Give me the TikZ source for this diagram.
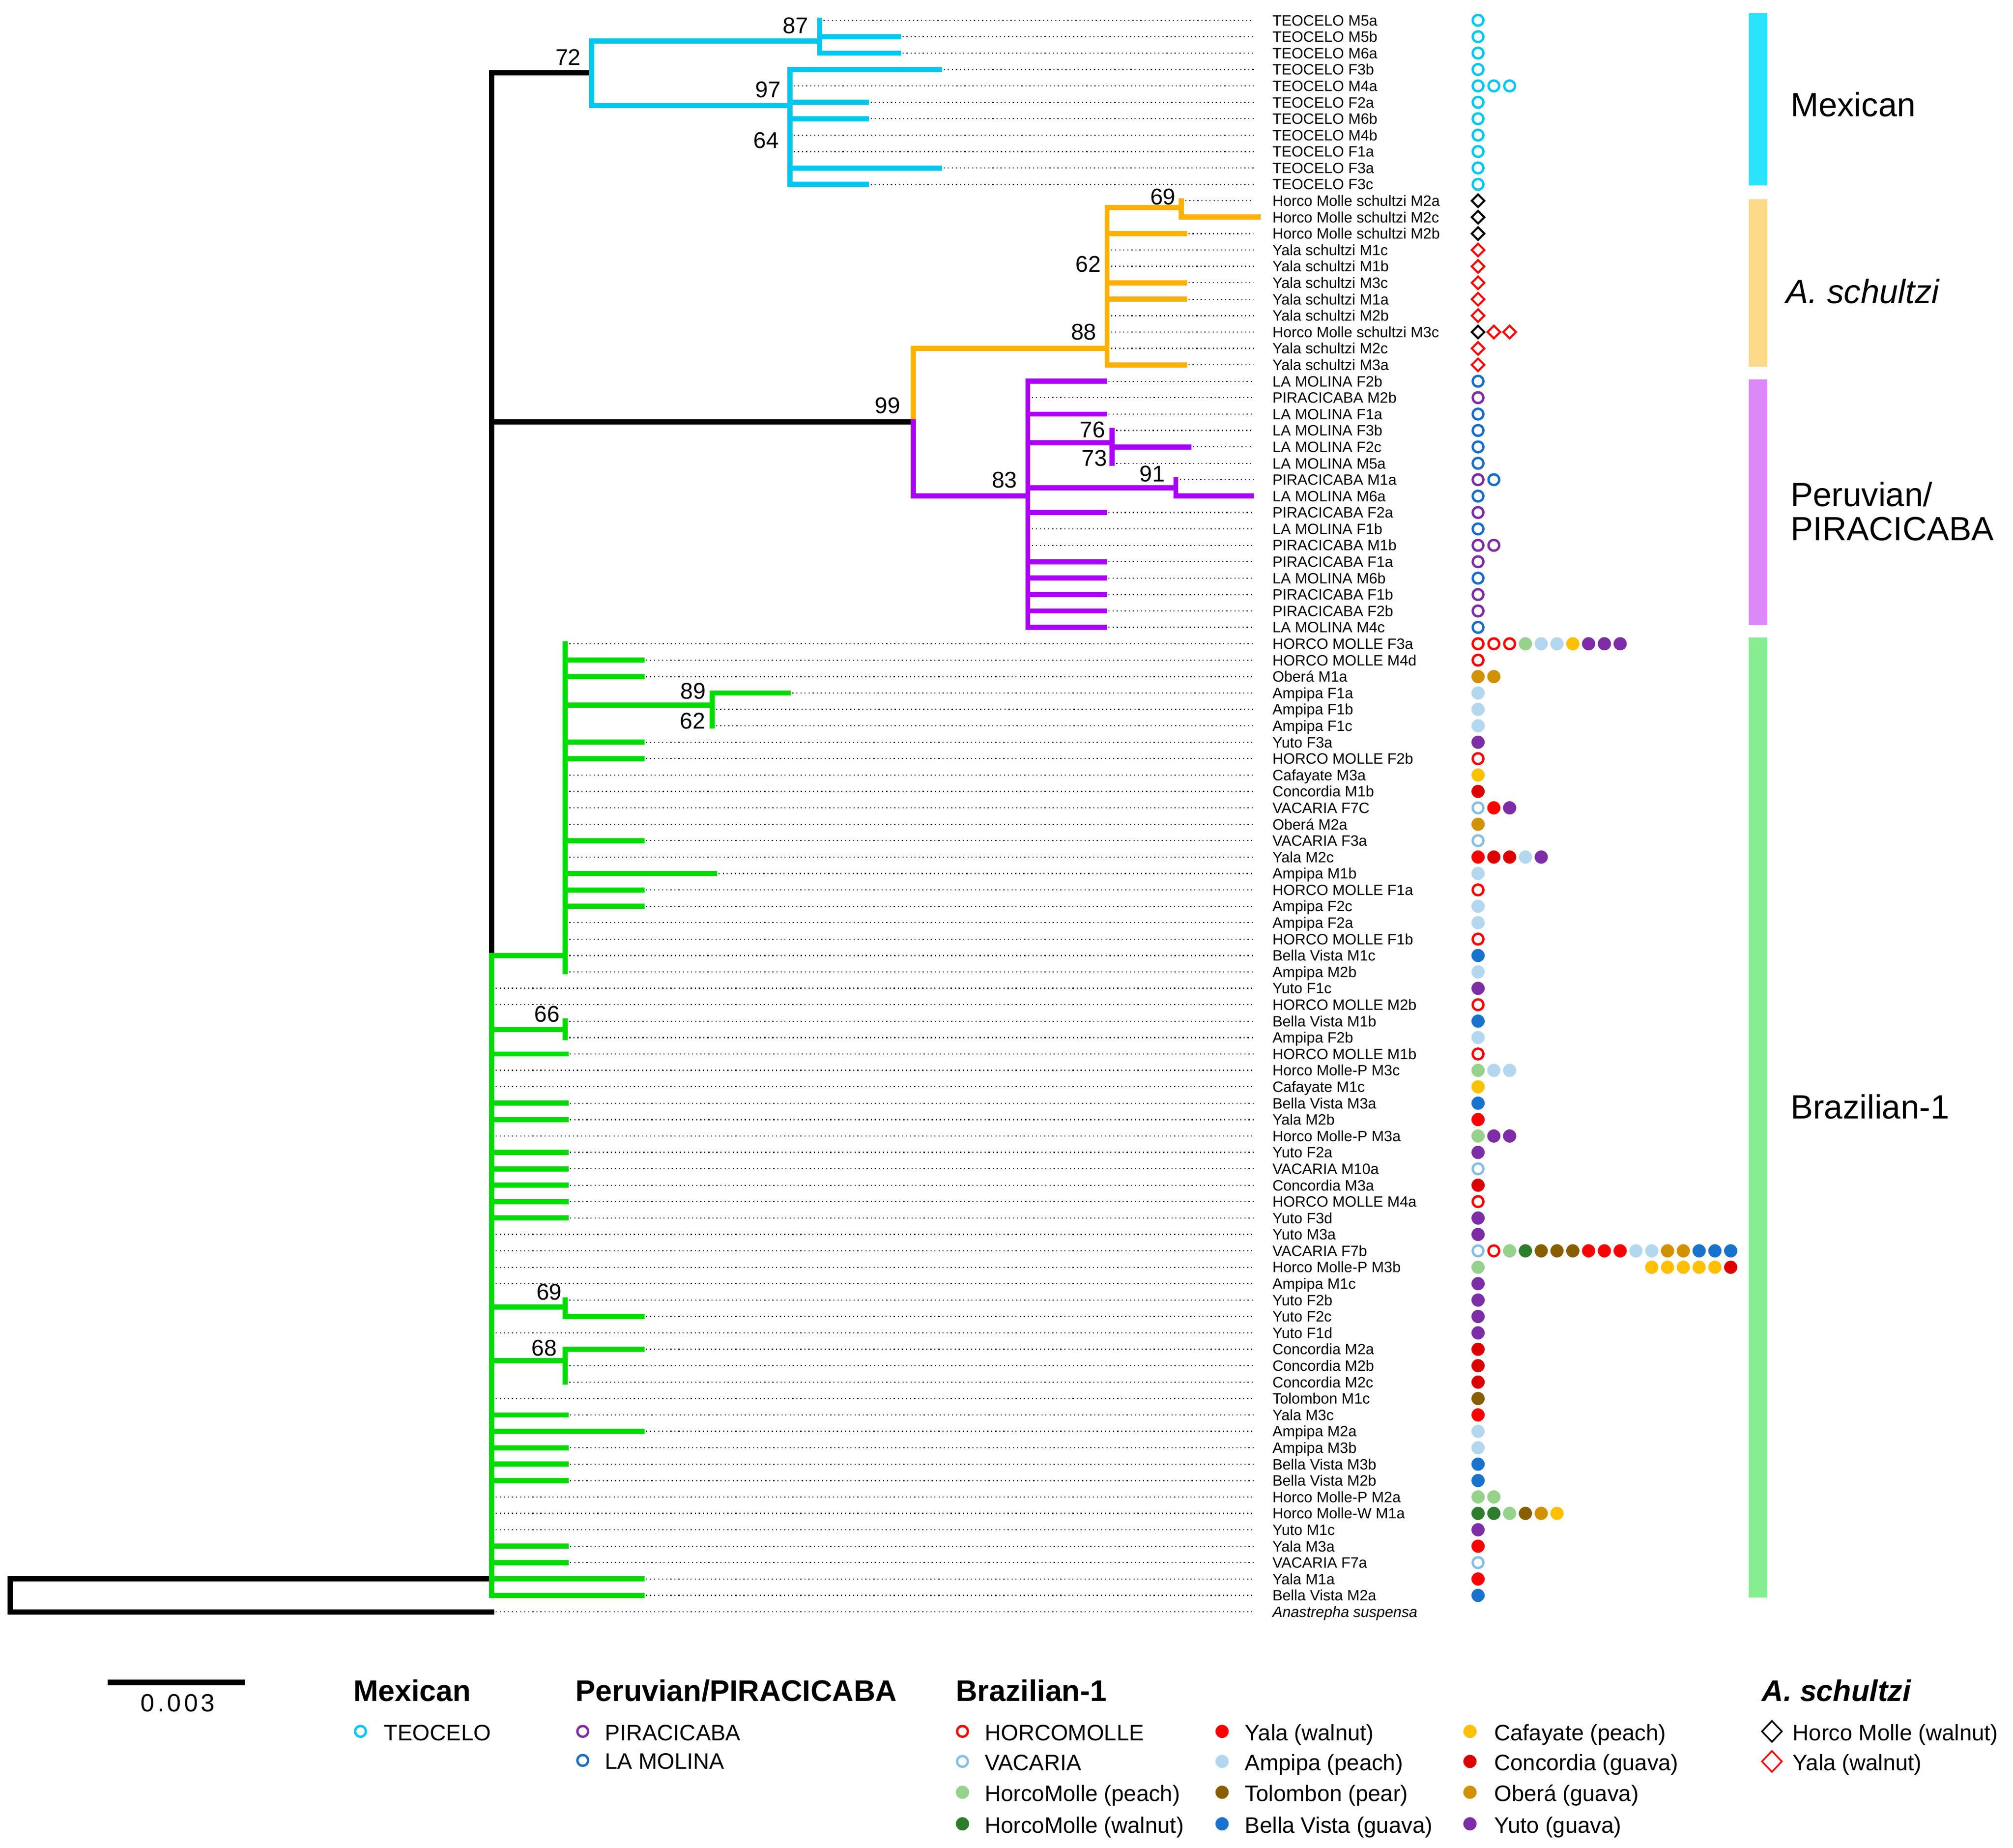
\documentclass[tikz,border=0pt]{standalone}
\usepackage{fontspec}
\setmainfont{Liberation Sans}
\usetikzlibrary{shapes.geometric}
\definecolor{cMex}{RGB}{0,200,240}
\definecolor{cSch}{RGB}{255,176,0}
\definecolor{cPer}{RGB}{170,0,250}
\definecolor{cBra}{RGB}{0,220,0}
\definecolor{barMex}{RGB}{42,228,251}
\definecolor{barSch}{RGB}{253,217,138}
\definecolor{barPer}{RGB}{221,136,248}
\definecolor{barBra}{RGB}{134,238,144}
\definecolor{tcC}{RGB}{0,200,240}
\definecolor{piC}{RGB}{125,45,165}
\definecolor{lmC}{RGB}{25,110,200}
\definecolor{hmC}{RGB}{255,0,0}
\definecolor{vaC}{RGB}{135,190,230}
\definecolor{hpC}{RGB}{150,210,140}
\definecolor{hwC}{RGB}{45,125,45}
\definecolor{yaC}{RGB}{255,0,0}
\definecolor{amC}{RGB}{180,215,240}
\definecolor{toC}{RGB}{135,95,0}
\definecolor{bvC}{RGB}{25,115,205}
\definecolor{caC}{RGB}{255,192,0}
\definecolor{coC}{RGB}{220,0,0}
\definecolor{obC}{RGB}{210,145,0}
\definecolor{yuC}{RGB}{125,45,165}
\newcommand\tipfont{\fontsize{8.3}{9}\selectfont}
\newcommand\bsfont{\fontsize{12.6}{14}\selectfont}
\newcommand\barfont{\fontsize{18.6}{21}\selectfont}
\newcommand\lghfont{\fontsize{16.5}{19}\selectfont\bfseries}
\newcommand\lgefont{\fontsize{12.4}{14}\selectfont}
\begin{document}
\begin{tikzpicture}[x=0.025cm,y=-0.025cm,
  declare function={ry(\q)=15.8+(\q-1)*12.78;},
  br/.style={line width=2.85pt, line cap=rect, line join=miter},
  lead/.style={line width=0.6pt, dash pattern=on 0.6pt off 1.65pt, black},
  tiplab/.style={anchor=west, inner sep=0pt, font=\tipfont, text height=5.94pt, text depth=0pt},
  bs/.style={inner sep=0pt, font=\bsfont, text height=9pt, text depth=0pt, anchor=center},
  barlab/.style={anchor=west, inner sep=0pt, font=\barfont, text height=13.3pt, text depth=0pt},
  lgh/.style={anchor=base west, inner sep=0pt, font=\lghfont},
  lge/.style={anchor=west, inner sep=0pt, font=\lgefont, text height=8.88pt, text depth=0pt},
  mkopen/.style={circle, inner sep=0pt, minimum size=0.21cm, line width=1.3pt, draw},
  mkfill/.style={circle, inner sep=0pt, minimum size=0.2575cm, draw=none},
  mkdia/.style={diamond, inner sep=0pt, minimum width=0.2625cm, minimum height=0.2625cm, line width=1.1pt, draw},
  mktc/.style={mkopen, draw=tcC},
  mkpi/.style={mkopen, draw=piC},
  mklm/.style={mkopen, draw=lmC},
  mkhm/.style={mkopen, draw=hmC},
  mkva/.style={mkopen, draw=vaC},
  mkhp/.style={mkfill, fill=hpC},
  mkhw/.style={mkfill, fill=hwC},
  mkya/.style={mkfill, fill=yaC},
  mkam/.style={mkfill, fill=amC},
  mkto/.style={mkfill, fill=toC},
  mkbv/.style={mkfill, fill=bvC},
  mkca/.style={mkfill, fill=caC},
  mkco/.style={mkfill, fill=coC},
  mkob/.style={mkfill, fill=obC},
  mkyu/.style={mkfill, fill=yuC},
  mkdk/.style={mkdia, draw=black},
  mkdr/.style={mkdia, draw=red},
  lgdia/.style={diamond, inner sep=0pt, minimum width=0.4cm, minimum height=0.42cm, line width=0.9pt, draw}
]
\fill[white] (0,0) rectangle (1568,1439.1);
\path[use as bounding box] (0,0) rectangle (1568,1439.1);

% ---------- root ----------
\coordinate (root) at (8,{ry(96)});
\coordinate (rootb) at (8,{ry(98)});
\coordinate (ingr) at (383,{ry(96)});
\coordinate (outg) at (383,{ry(98)});
\draw[br,black] (ingr) -- (root) -- (rootb) -- (outg);

% ---------- tips: leaders, branches, labels ----------
\foreach \r/\c/\nx/\tx/\lab in {
1/cMex/638.4/638.4/TEOCELO M5a,
2/cMex/638.4/699.8/TEOCELO M5b,
3/cMex/638.4/699.8/TEOCELO M6a,
4/cMex/615.2/731.9/TEOCELO F3b,
5/cMex/615.2/615.2/TEOCELO M4a,
6/cMex/615.2/675/TEOCELO F2a,
7/cMex/615.2/675/TEOCELO M6b,
8/cMex/615.2/615.2/TEOCELO M4b,
9/cMex/615.2/615.2/TEOCELO F1a,
10/cMex/615.2/731.9/TEOCELO F3a,
11/cMex/615.2/675/TEOCELO F3c,
12/cSch/920/920/Horco Molle schultzi M2a,
13/cSch/920/980.2/Horco Molle schultzi M2c,
14/cSch/862.3/922.6/Horco Molle schultzi M2b,
15/cSch/862.3/862.3/Yala schultzi M1c,
16/cSch/862.3/862.3/Yala schultzi M1b,
17/cSch/862.3/922.6/Yala schultzi M3c,
18/cSch/862.3/922.6/Yala schultzi M1a,
19/cSch/862.3/862.3/Yala schultzi M2b,
20/cSch/862.3/862.3/Horco Molle schultzi M3c,
21/cSch/862.3/862.3/Yala schultzi M2c,
22/cSch/862.3/922.6/Yala schultzi M3a,
23/cPer/800.6/860.3/LA MOLINA F2b,
24/cPer/800.6/800.6/PIRACICABA M2b,
25/cPer/800.6/860.3/LA MOLINA F1a,
26/cPer/866.3/866.3/LA MOLINA F3b,
27/cPer/866.3/925.9/LA MOLINA F2c,
28/cPer/866.3/866.3/LA MOLINA M5a,
29/cPer/915.9/915.9/PIRACICABA M1a,
30/cPer/915.9/975/LA MOLINA M6a,
31/cPer/800.6/860.3/PIRACICABA F2a,
32/cPer/800.6/800.6/LA MOLINA F1b,
33/cPer/800.6/800.6/PIRACICABA M1b,
34/cPer/800.6/860.3/PIRACICABA F1a,
35/cPer/800.6/860.3/LA MOLINA M6b,
36/cPer/800.6/860.3/PIRACICABA F1b,
37/cPer/800.6/860.3/PIRACICABA F2b,
38/cPer/800.6/860.3/LA MOLINA M4c,
39/cBra/440.3/440.3/HORCO MOLLE F3a,
40/cBra/440.3/500/HORCO MOLLE M4d,
41/cBra/440.3/500/Oberá M1a,
42/cBra/554.6/614/Ampipa F1a,
43/cBra/554.6/554.6/Ampipa F1b,
44/cBra/554.6/554.6/Ampipa F1c,
45/cBra/440.3/500/Yuto F3a,
46/cBra/440.3/500/HORCO MOLLE F2b,
47/cBra/440.3/440.3/Cafayate M3a,
48/cBra/440.3/440.3/Concordia M1b,
49/cBra/440.3/440.3/VACARIA F7C,
50/cBra/440.3/440.3/Oberá M2a,
51/cBra/440.3/500/VACARIA F3a,
52/cBra/440.3/440.3/Yala M2c,
53/cBra/440.3/556.6/Ampipa M1b,
54/cBra/440.3/500/HORCO MOLLE F1a,
55/cBra/440.3/500/Ampipa F2c,
56/cBra/440.3/440.3/Ampipa F2a,
57/cBra/440.3/440.3/HORCO MOLLE F1b,
58/cBra/440.3/440.3/Bella Vista M1c,
59/cBra/440.3/440.3/Ampipa M2b,
60/cBra/383/383/Yuto F1c,
61/cBra/383/383/HORCO MOLLE M2b,
62/cBra/440.3/440.3/Bella Vista M1b,
63/cBra/440.3/440.3/Ampipa F2b,
64/cBra/383/441/HORCO MOLLE M1b,
65/cBra/383/383/Horco Molle-P M3c,
66/cBra/383/383/Cafayate M1c,
67/cBra/383/441/Bella Vista M3a,
68/cBra/383/441/Yala M2b,
69/cBra/383/383/Horco Molle-P M3a,
70/cBra/383/441/Yuto F2a,
71/cBra/383/441/VACARIA M10a,
72/cBra/383/441/Concordia M3a,
73/cBra/383/441/HORCO MOLLE M4a,
74/cBra/383/441/Yuto F3d,
75/cBra/383/383/Yuto M3a,
76/cBra/383/383/VACARIA F7b,
77/cBra/383/383/Horco Molle-P M3b,
78/cBra/383/383/Ampipa M1c,
79/cBra/440.3/440.3/Yuto F2b,
80/cBra/440.3/500/Yuto F2c,
81/cBra/383/383/Yuto F1d,
82/cBra/440.3/500/Concordia M2a,
83/cBra/440.3/440.3/Concordia M2b,
84/cBra/440.3/440.3/Concordia M2c,
85/cBra/383/383/Tolombon M1c,
86/cBra/383/441/Yala M3c,
87/cBra/383/500/Ampipa M2a,
88/cBra/383/441/Ampipa M3b,
89/cBra/383/441/Bella Vista M3b,
90/cBra/383/441/Bella Vista M2b,
91/cBra/383/383/Horco Molle-P M2a,
92/cBra/383/383/Horco Molle-W M1a,
93/cBra/383/383/Yuto M1c,
94/cBra/383/441/Yala M3a,
95/cBra/383/441/VACARIA F7a,
96/cBra/383/500/Yala M1a,
97/cBra/383/500/Bella Vista M2a,
98/black/383/383/\textit{Anastrepha suspensa}}
{
  \coordinate (b\r) at (\nx,{ry(\r)});
  \coordinate (e\r) at (\tx,{ry(\r)});
  \coordinate (d\r) at (976.5,{ry(\r)});
  \node[tiplab] (lab\r) at (990.9,{ry(\r)}) {\lab};
  \draw[lead] (e\r) -- (d\r);
  \draw[br,\c] (b\r) -- (e\r);
}

% ---------- internal structure ----------
\coordinate (Itop) at (383,{ry(4.21)});
\coordinate (Imid) at (383,{ry(58)});
\coordinate (Ibot) at (383,{ry(97)});
\coordinate (Isp) at (383,{ry(25.48)});
% Mexican
\coordinate (n72) at (460.9,{ry(4.21)});
\coordinate (n72t) at (460.9,{ry(2.26)});
\coordinate (n72b) at (460.9,{ry(6.2)});
\coordinate (n87) at (638.4,{ry(2.26)});
\coordinate (n97) at (615.2,{ry(6.2)});
\draw[br,black] (Itop) -- (n72);
\draw[br,cMex] (n72t) -- (n72b);
\draw[br,cMex] (n72t) -- (n87);
\draw[br,cMex] (b1) -- (b3);
\draw[br,cMex] (n72b) -- (n97);
\draw[br,cMex] (b4) -- (b11);
% A. schultzi + Peruvian
\coordinate (n99) at (711.4,{ry(25.48)});
\coordinate (n99t) at (711.4,{ry(21)});
\coordinate (n99b) at (711.4,{ry(30)});
\coordinate (n88) at (862.3,{ry(21)});
\coordinate (n88t) at (862.3,{ry(12.41)});
\coordinate (n69) at (920,{ry(12.41)});
\draw[br,black] (Isp) -- (n99);
\draw[br,cSch] (n99) -- (n99t) -- (n88);
\draw[br,cSch] (n88t) -- (b22);
\draw[br,cSch] (n88t) -- (n69);
\draw[br,cSch] (b12) -- (b13);
\coordinate (n83) at (800.6,{ry(30)});
\coordinate (n83a) at (800.6,{ry(26.75)});
\coordinate (n76) at (866.3,{ry(26.75)});
\coordinate (n83b) at (800.6,{ry(29.5)});
\coordinate (n91) at (915.9,{ry(29.5)});
\draw[br,cPer] (n99) -- (n99b) -- (n83);
\draw[br,cPer] (b23) -- (b38);
\draw[br,cPer] (n83a) -- (n76);
\draw[br,cPer] (b26) -- (b28);
\draw[br,cPer] (n83b) -- (n91);
\draw[br,cPer] (b29) -- (b30);
% ingroup vertical
\draw[br,black] (Itop) -- (Imid);
\draw[br,cBra] (Imid) -- (Ibot);
% Brazilian-1
\coordinate (nA) at (440.3,{ry(58)});
\coordinate (nAmpL) at (440.3,{ry(42.74)});
\coordinate (nAmp) at (554.6,{ry(42.74)});
\draw[br,cBra] (Imid) -- (nA);
\draw[br,cBra] (b39) -- (b59);
\draw[br,cBra] (nAmpL) -- (nAmp);
\draw[br,cBra] (b42) -- (b44);
\coordinate (i66) at (383,{ry(62.5)});
\coordinate (n66) at (440.3,{ry(62.5)});
\draw[br,cBra] (i66) -- (n66);
\draw[br,cBra] (b62) -- (b63);
\coordinate (i69) at (383,{ry(79.43)});
\coordinate (n69b) at (440.3,{ry(79.43)});
\draw[br,cBra] (i69) -- (n69b);
\draw[br,cBra] (b79) -- (b80);
\coordinate (i68) at (383,{ry(82.68)});
\coordinate (n68) at (440.3,{ry(82.68)});
\draw[br,cBra] (i68) -- (n68);
\draw[br,cBra] (b82) -- (b84);

% ---------- bootstrap values ----------
\node[bs] (bs72) at (442.6,44.4) {72};
\node[bs] (bs87) at (619.8,19.9) {87};
\node[bs] (bs97) at (598.3,69.5) {97};
\node[bs] (bs64) at (596.7,109) {64};
\node[bs] (bs69a) at (905.8,153.1) {69};
\node[bs] (bs62a) at (847.7,205.5) {62};
\node[bs] (bs88) at (844.2,258.5) {88};
\node[bs] (bs99) at (691.3,315.6) {99};
\node[bs] (bs76) at (851,334.5) {76};
\node[bs] (bs73) at (852.5,356.5) {73};
\node[bs] (bs91) at (897.6,369) {91};
\node[bs] (bs83) at (782.4,373.6) {83};
\node[bs] (bs89) at (540,537.9) {89};
\node[bs] (bs62b) at (539.5,561.3) {62};
\node[bs] (bs66) at (426.2,789.6) {66};
\node[bs] (bs69b) at (427.8,1006.3) {69};
\node[bs] (bs68) at (424,1049.7) {68};

% ---------- haplotype symbols ----------
\foreach \r/\s/\L in {
1/1/{tc},2/1/{tc},3/1/{tc},4/1/{tc},5/1/{tc,tc,tc},6/1/{tc},7/1/{tc},8/1/{tc},9/1/{tc},10/1/{tc},11/1/{tc},
12/1/{dk},13/1/{dk},14/1/{dk},15/1/{dr},16/1/{dr},17/1/{dr},18/1/{dr},19/1/{dr},20/1/{dk,dr,dr},21/1/{dr},22/1/{dr},
23/1/{lm},24/1/{pi},25/1/{lm},26/1/{lm},27/1/{lm},28/1/{lm},29/1/{pi,lm},30/1/{lm},31/1/{pi},32/1/{lm},33/1/{pi,pi},34/1/{pi},35/1/{lm},36/1/{pi},37/1/{pi},38/1/{lm},
39/1/{hm,hm,hm,hp,am,am,ca,yu,yu,yu},
40/1/{hm},41/1/{ob,ob},42/1/{am},43/1/{am},44/1/{am},45/1/{yu},46/1/{hm},47/1/{ca},48/1/{co},49/1/{va,ya,yu},50/1/{ob},
51/1/{va},52/1/{ya,co,co,am,yu},53/1/{am},54/1/{hm},55/1/{am},56/1/{am},57/1/{hm},58/1/{bv},59/1/{am},60/1/{yu},
61/1/{hm},62/1/{bv},63/1/{am},64/1/{hm},65/1/{hp,am,am},66/1/{ca},67/1/{bv},68/1/{ya},69/1/{hp,yu,yu},70/1/{yu},
71/1/{va},72/1/{co},73/1/{hm},74/1/{yu},75/1/{yu},
76/1/{va,hm,hp,hw,to,to,to,ya,ya,ya,am,am,ob,ob,bv,bv,bv},
77/1/{hp},77/12/{ca,ca,ca,ca,ca,co},
78/1/{yu},79/1/{yu},80/1/{yu},81/1/{yu},82/1/{co},83/1/{co},84/1/{co},85/1/{to},86/1/{ya},87/1/{am},88/1/{am},
89/1/{bv},90/1/{bv},91/1/{hp,hp},92/1/{hw,hw,hp,to,ob,ca},93/1/{yu},94/1/{ya},95/1/{va},96/1/{ya},97/1/{bv}}
{
  \foreach \t [count=\k] in \L {
    \node[mk\t] (s\r-\s-\k) at ({1151.3+(\s+\k-2)*12.3},{ry(\r)}) {};
  }
}

% ---------- clade bars ----------
\fill[barMex] (1362.2,10.5) rectangle (1376.6,144.5);
\fill[barSch] (1362.2,155) rectangle (1376.6,285.5);
\fill[barPer] (1362.2,295.6) rectangle (1376.6,486.8);
\fill[barBra] (1362.2,496.7) rectangle (1376.6,1244.5);
\node[barlab] (blMex) at (1394.5,81.5) {Mexican};
\node[barlab] (blSch) at (1391,227) {\itshape A. schultzi};
\node[barlab] (blPer1) at (1394.5,385) {Peruvian/};
\node[barlab] (blPer2) at (1394.5,411.5) {PIRACICABA};
\node[barlab] (blBra) at (1394.5,862) {Brazilian-1};

% ---------- scale bar ----------
\coordinate (sbL) at (83.9,1310.5);
\coordinate (sbR) at (191,1310.5);
\draw[line width=3pt, black] (sbL) -- (sbR);
\node[inner sep=0pt, anchor=center, text height=9.9pt, text depth=0pt,
  font={\fontsize{13.8}{16}\selectfont\addfontfeature{LetterSpace=12}}] (sbt) at (138.5,1326.2) {0.003};

% ---------- legend ----------
\node[lgh] (hMex) at (275.1,1325) {Mexican};
\node[lgh] (hPer) at (448.2,1325) {Peruvian/PIRACICABA};
\node[lgh] (hBra) at (744.4,1325) {Brazilian-1};
\node[lgh] (hSch) at (1372.2,1325) {\itshape A. schultzi};

\node[mktc] (gTC) at (280.8,1348.6) {};
\node[lge] (tTC) at (298.8,1349.6) {TEOCELO};
\node[mkpi] (gPI) at (453.9,1348.6) {};
\node[lge] (tPI) at (471,1349.6) {PIRACICABA};
\node[mklm] (gLM) at (453.9,1371.2) {};
\node[lge] (tLM) at (471,1371.8) {LA MOLINA};

\foreach \cx/\tx/\yy/\t/\txt in {
749.7/766.8/1349.4/hm/HORCOMOLLE,
749.7/766.8/1372.8/va/VACARIA,
749.7/766.8/1396.8/hp/HorcoMolle (peach),
749.7/766.8/1421.4/hw/HorcoMolle (walnut),
951.9/969.5/1349.4/ya/Yala (walnut),
951.9/969.5/1372.8/am/Ampipa (peach),
951.9/969.5/1396.8/to/Tolombon (pear),
951.9/969.5/1421.4/bv/Bella Vista (guava),
1145/1163.7/1349.4/ca/Cafayate (peach),
1145/1163.7/1372.8/co/Concordia (guava),
1145/1163.7/1396.8/ob/Oberá (guava),
1145/1163.7/1421.4/yu/Yuto (guava)}
{
  \node[mk\t] (g\t) at (\cx,\yy-0.8) {};
  \node[lge] (t\t) at (\tx,\yy) {\txt};
}
\node[lgdia, draw=black] (gDK) at (1380.2,1348.6) {};
\node[lge] (tDK) at (1396.2,1349.4) {Horco Molle (walnut)};
\node[lgdia, draw=red] (gDR) at (1380.2,1372) {};
\node[lge] (tDR) at (1396.2,1372.8) {Yala (walnut)};
\end{tikzpicture}
\end{document}
